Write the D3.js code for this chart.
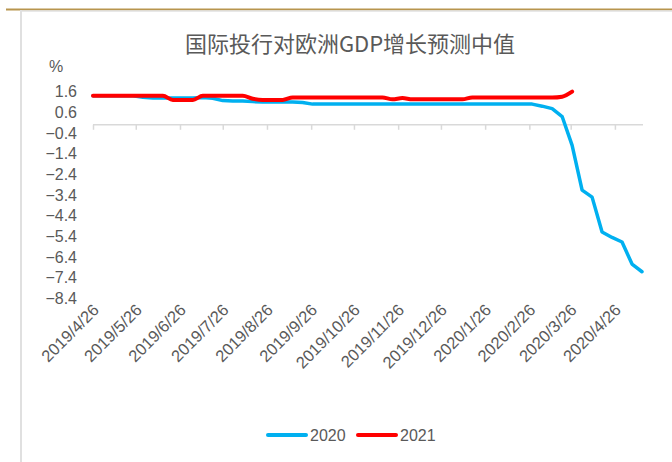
<!DOCTYPE html>
<html>
<head>
<meta charset="utf-8">
<script src="https://cdn.jsdelivr.net/npm/d3@7/dist/d3.min.js"></script>
<style>
  html, body { margin: 0; padding: 0; background: #fff; }
  svg text { font-family: "Liberation Sans", Arial, sans-serif; fill: #595959; }
</style>
</head>
<body>
<svg id="chart" width="672" height="462"></svg>
<script>
// 周度数据（每周五），2019/4/26 起
const startDate = new Date(2019, 3, 26)
const endDate = new Date(2020, 4, 15)
const weekDates = d3.timeFriday.range(startDate, d3.timeDay.offset(endDate, 1))

const tickLabels = ['2019/4/26', '2019/5/26', '2019/6/26', '2019/7/26', '2019/8/26', '2019/9/26',
  '2019/10/26', '2019/11/26', '2019/12/26', '2020/1/26', '2020/2/26', '2020/3/26', '2020/4/26']

const yTicks = [1.6, 0.6, -0.4, -1.4, -2.4, -3.4, -4.4, -5.4, -6.4, -7.4, -8.4]

// 2020 年增长预测中值
const values2020 = [
  1.4, 1.4, 1.4, 1.4, 1.4, 1.33, 1.3, 1.3, 1.3, 1.3, 1.3,
  1.32, 1.28, 1.17, 1.15, 1.15, 1.12, 1.1, 1.1, 1.1, 1.1, 1.08, 1.0,
  1.0, 1.0, 1.0, 1.0, 1.0, 1.0, 1.0, 1.0, 1.0, 1.0, 1.0,
  1.0, 1.0, 1.0, 1.0, 1.0, 1.0, 1.0, 1.0, 1.0, 1.0, 1.0,
  0.9, 0.78, 0.4, -1.0, -3.16, -3.5, -5.19, -5.45, -5.67, -6.74, -7.11
]

// 2021 年增长预测中值
const values2021 = [
  1.4, 1.4, 1.4, 1.4, 1.4, 1.4, 1.4, 1.4, 1.2, 1.2, 1.2,
  1.4, 1.4, 1.4, 1.4, 1.4, 1.26, 1.2, 1.2, 1.2,
  1.32, 1.32, 1.32, 1.32, 1.32, 1.32, 1.32, 1.32, 1.32, 1.32,
  1.23, 1.29, 1.23, 1.23, 1.23, 1.23, 1.23, 1.23,
  1.32, 1.32, 1.32, 1.32, 1.32, 1.32, 1.32, 1.32, 1.32, 1.36, 1.6
]

const series = [
  { name: '2020', color: '#00B0F0', width: 3.5, values: values2020, curve: d3.curveLinear },
  { name: '2021', color: '#FF0000', width: 4, values: values2021, curve: d3.curveMonotoneX }
]

const svg = d3.select('#chart')

// 外框
svg.append('rect').attr('x', 6).attr('y', 8.5).attr('width', 666).attr('height', 2).attr('fill', '#B8954E')
svg.append('line').attr('x1', 20).attr('x2', 672).attr('y1', 11).attr('y2', 11)
  .attr('stroke', '#E0E0E0').attr('stroke-width', 1.5)
svg.append('line').attr('x1', 21).attr('x2', 21).attr('y1', 10).attr('y2', 462)
  .attr('stroke', '#E0E0E0').attr('stroke-width', 2)

const x = d3.scaleTime()
  .domain([startDate, endDate])
  .range([93, 642])

const y = d3.scaleLinear()
  .domain([-8.4, 1.6])
  .range([298.4, 91.7])

// 标题
svg.append('text')
  .attr('x', 350)
  .attr('y', 52)
  .attr('text-anchor', 'middle')
  .style('font-family', '"Noto Sans CJK SC", sans-serif')
  .style('font-size', '22px')
  .text('国际投行对欧洲GDP增长预测中值')

// y 轴标签
const yAxis = svg.append('g')
  .attr('transform', 'translate(77,0)')
  .call(d3.axisLeft(y).tickValues(yTicks).tickSize(0).tickPadding(0).tickFormat(d3.format('.1f')))
yAxis.select('.domain').remove()
yAxis.selectAll('text').style('font-size', '16px').style('fill', '#595959')
  .style('font-family', '"Liberation Sans", Arial, sans-serif')

svg.append('text')
  .attr('x', 49)
  .attr('y', 72)
  .style('font-size', '16px')
  .text('%')

// x 轴（穿过 0）
const tickDates = tickLabels.map(s => d3.timeParse('%Y/%m/%d')(s))
const xAxis = svg.append('g')
  .attr('transform', `translate(0,${y(0)})`)
  .call(d3.axisBottom(x).tickValues(tickDates).tickSize(5).tickSizeOuter(0).tickFormat(''))
xAxis.select('.domain').attr('stroke', '#D9D9D9').attr('stroke-width', 1.5)
  .attr('d', `M93,0H643`)
xAxis.selectAll('.tick line').attr('stroke', '#D9D9D9').attr('stroke-width', 1.5)

// 日期标签放在绘图区下方
svg.append('g')
  .selectAll('text')
  .data(tickDates)
  .enter().append('text')
  .attr('transform', d => `translate(${x(d) + 3},307) rotate(-45)`)
  .attr('text-anchor', 'end')
  .attr('dy', '0.35em')
  .style('font-size', '16.5px')
  .text((d, i) => tickLabels[i])

// 折线
svg.append('g')
  .selectAll('path')
  .data(series)
  .enter().append('path')
  .attr('fill', 'none')
  .attr('stroke', d => d.color)
  .attr('stroke-width', d => d.width)
  .attr('stroke-linejoin', 'round')
  .attr('stroke-linecap', 'round')
  .attr('d', d => d3.line()
    .x((v, i) => x(weekDates[i]))
    .y(v => y(v))
    .curve(d.curve)(d.values))

// 图例
const legend = svg.append('g')
  .selectAll('g')
  .data(series)
  .enter().append('g')
  .attr('transform', (d, i) => `translate(${268 + i * 90},435)`)

legend.append('line')
  .attr('x1', 0).attr('x2', 38)
  .attr('stroke', d => d.color)
  .attr('stroke-width', 4)
  .attr('stroke-linecap', 'round')

legend.append('text')
  .attr('x', 42)
  .attr('dy', '0.35em')
  .style('font-size', '16px')
  .text(d => d.name)
</script>
</body>
</html>
